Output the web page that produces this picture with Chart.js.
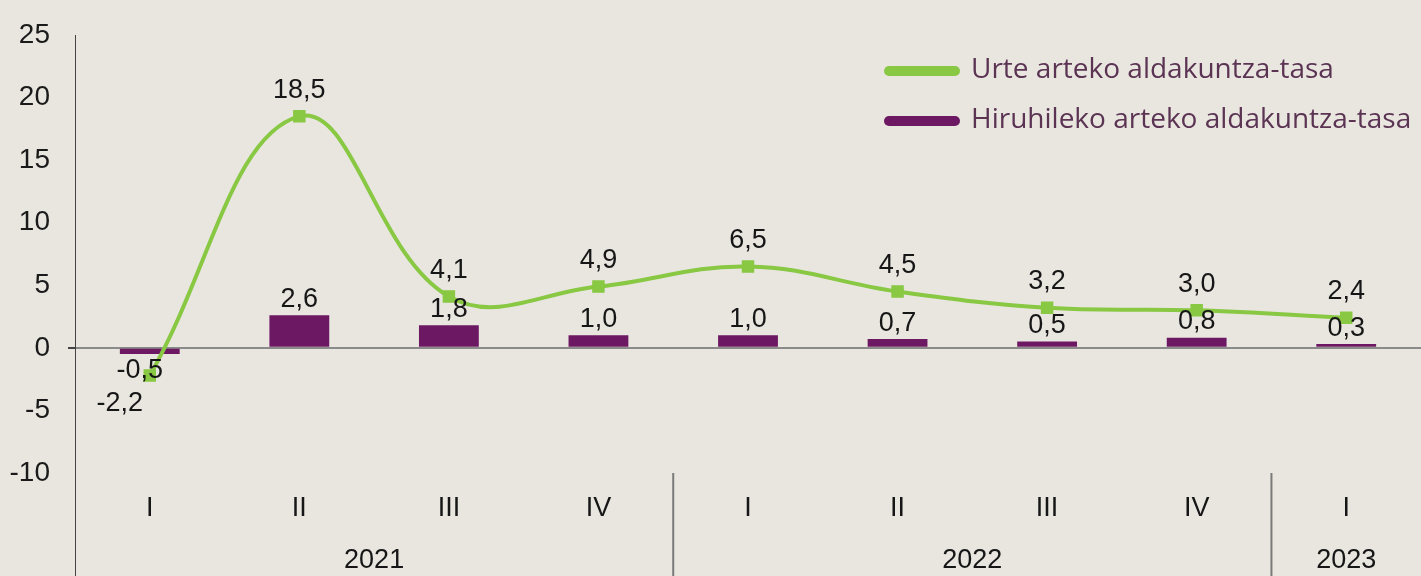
<!DOCTYPE html>
<html>
<head>
<meta charset="utf-8">
<script src="https://cdn.jsdelivr.net/npm/chart.js@4.4.1/dist/chart.umd.min.js"></script>
<style>
  html, body { margin: 0; background: #e9e6e0; overflow: hidden; }
  #wrap { width: 1421px; height: 576px; position: relative; }
  canvas { display: block; }
</style>
</head>
<body>
<div id="wrap"><canvas id="chart"></canvas></div>
<script>
const quarters = ["I", "II", "III", "IV", "I", "II", "III", "IV", "I"];
const years = [
  { label: "2021", from: 0, to: 3 },
  { label: "2022", from: 4, to: 7 },
  { label: "2023", from: 8, to: 8 }
];
const yearlyRate = [-2.2, 18.5, 4.1, 4.9, 6.5, 4.5, 3.2, 3.0, 2.4];
const quarterlyRate = [-0.5, 2.6, 1.8, 1.0, 1.0, 0.7, 0.5, 0.8, 0.3];
const seriesNames = ["Urte arteko aldakuntza-tasa", "Hiruhileko arteko aldakuntza-tasa"];

const GREEN = "#88c843";
const PURPLE = "#6d1862";
const ARIAL = "'Liberation Sans', Arial, sans-serif";
const fmt = v => v.toFixed(1).replace(".", ",");

// values above points / bars, quarter + year labels and separators, legend
const extras = {
  id: "extras",
  afterDatasetsDraw(chart) {
    const { ctx, chartArea, scales } = chart;
    ctx.save();
    ctx.font = "27px " + ARIAL;
    ctx.fillStyle = "#161616";
    ctx.textAlign = "center";
    ctx.textBaseline = "middle";

    // bar labels
    chart.getDatasetMeta(1).data.forEach((bar, i) => {
      const v = quarterlyRate[i];
      const y = v >= 0 ? bar.y - 16 : bar.y + 16;
      ctx.fillText(fmt(v), v >= 0 ? bar.x : bar.x - 10, y);
    });
    // line labels
    chart.getDatasetMeta(0).data.forEach((pt, i) => {
      const v = yearlyRate[i];
      if (v < 0) ctx.fillText(fmt(v), pt.x - 30, pt.y + 28);
      else ctx.fillText(fmt(v), pt.x, pt.y - 26);
    });

    // quarter labels
    const x = scales.x;
    quarters.forEach((q, i) => ctx.fillText(q, x.getPixelForValue(i), chartArea.bottom + 36));
    // year labels
    years.forEach(yr => {
      const cx = (x.getPixelForValue(yr.from) + x.getPixelForValue(yr.to)) / 2;
      ctx.fillText(yr.label, cx, chartArea.bottom + 88);
    });
    // separators
    ctx.strokeStyle = "#7a7a7a";
    ctx.lineWidth = 2;
    const step = x.getPixelForValue(1) - x.getPixelForValue(0);
    years.forEach((yr, k) => {
      if (k === 0) return;
      const sx = x.getPixelForValue(yr.from) - step / 2;
      ctx.beginPath();
      ctx.moveTo(sx, chartArea.bottom);
      ctx.lineTo(sx, chart.height);
      ctx.stroke();
    });
    ctx.strokeStyle = "#444";
    ctx.lineWidth = 1;
    ctx.beginPath();
    ctx.moveTo(chartArea.left + 0.5, chartArea.bottom);
    ctx.lineTo(chartArea.left + 0.5, chart.height);
    ctx.stroke();

    // legend
    const colors = [GREEN, PURPLE];
    ctx.font = "28px 'Open Sans', sans-serif";
    ctx.textAlign = "left";
    ctx.lineCap = "round";
    seriesNames.forEach((name, k) => {
      const ly = 71 + k * 50;
      ctx.strokeStyle = colors[k];
      ctx.lineWidth = 10;
      ctx.beginPath();
      ctx.moveTo(889, ly);
      ctx.lineTo(955, ly);
      ctx.stroke();
      ctx.fillStyle = "#5b3453";
      ctx.fillText(name, 971, ly - 1);
    });
    ctx.restore();
  }
};

new Chart(document.getElementById("chart"), {
  data: {
    labels: quarters,
    datasets: [
      {
        type: "line",
        label: seriesNames[0],
        data: yearlyRate,
        borderColor: GREEN,
        backgroundColor: GREEN,
        borderWidth: 4,
        tension: 0.4,
        pointStyle: "rect",
        pointRadius: 6,
        pointHoverRadius: 6,
        order: 0
      },
      {
        type: "bar",
        label: seriesNames[1],
        data: quarterlyRate,
        backgroundColor: PURPLE,
        barPercentage: 0.4,
        categoryPercentage: 1,
        order: 1
      }
    ]
  },
  options: {
    responsive: true,
    maintainAspectRatio: false,
    animation: false,
    layout: { autoPadding: false, padding: { top: 35, right: 0, bottom: 103, left: 0 } },
    plugins: { legend: { display: false }, tooltip: { enabled: false } },
    scales: {
      x: { display: false, offset: true },
      y: {
        min: -10,
        max: 25,
        afterFit: s => { s.width = 75; },
        ticks: {
          stepSize: 5,
          padding: 18,
          color: "#1a1a1a",
          font: { family: ARIAL, size: 28 }
        },
        border: { color: "#444", width: 1 },
        grid: {
          drawTicks: true,
          tickLength: 7,
          tickColor: "#444",
          color: c => (c.tick && c.tick.value === 0 ? "#8a8a8a" : "transparent"),
          lineWidth: c => (c.tick && c.tick.value === 0 ? 2 : 0)
        }
      }
    }
  },
  plugins: [extras]
});
</script>
</body>
</html>
